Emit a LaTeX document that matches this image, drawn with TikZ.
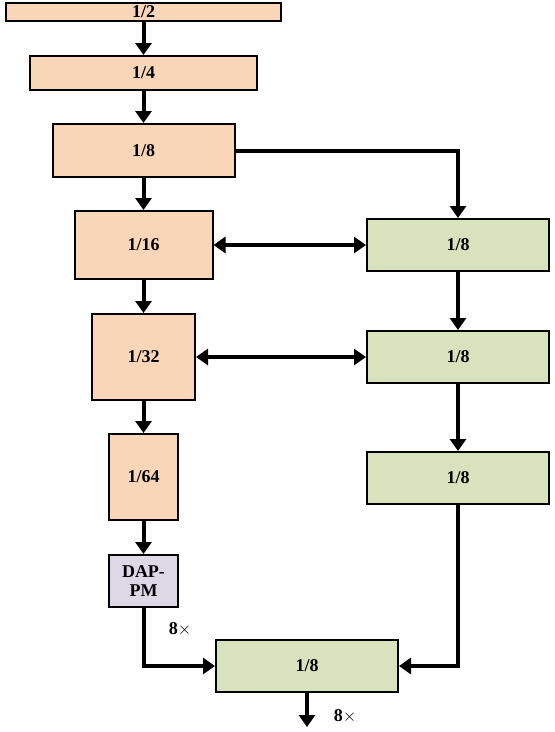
\documentclass[tikz,border=0pt]{standalone}
\usepackage{fontspec}
\setmainfont{Liberation Serif}
\usetikzlibrary{arrows.meta}
\definecolor{peach}{HTML}{FAD6B8}
\definecolor{sage}{HTML}{D8E3BE}
\definecolor{lav}{HTML}{DDD8E6}
\tikzset{
  box/.style={draw=black, line width=2pt, inner sep=0pt, font=\fontsize{18}{19}\selectfont\bfseries, align=center},
  pbox/.style={box, fill=peach},
  gbox/.style={box, fill=sage},
  dbox/.style={box, fill=lav},
  conn/.style={line width=4pt, -{Triangle[length=12pt,width=16pt]}},
  biconn/.style={line width=4pt, {Triangle[length=12pt,width=16pt]}-{Triangle[length=12pt,width=16pt]}},
  lbl/.style={font=\fontsize{18}{19}\selectfont\bfseries}
}
\begin{document}
\begin{tikzpicture}[x=1pt,y=-1pt]
\useasboundingbox (0,0) rectangle (555,732);
\node[pbox, minimum width=275pt, minimum height=18pt] (a2) at (143.5,12) {1/2};
\node[pbox, minimum width=227pt, minimum height=34pt] (a4) at (143.5,73) {1/4};
\node[pbox, minimum width=182pt, minimum height=53pt] (a8) at (143.5,150.5) {1/8};
\node[pbox, minimum width=138pt, minimum height=68pt] (a16) at (143.5,245) {1/16};
\node[pbox, minimum width=103pt, minimum height=86pt] (a32) at (143.5,357) {1/32};
\node[pbox, minimum width=69pt, minimum height=86pt] (a64) at (143.5,477) {1/64};
\node[dbox, minimum width=69pt, minimum height=52pt] (dap) at (143.5,581) {DAP-\\PM};
\node[gbox, minimum width=182pt, minimum height=52pt] (g1) at (458,245) {1/8};
\node[gbox, minimum width=182pt, minimum height=52pt] (g2) at (458,357) {1/8};
\node[gbox, minimum width=182pt, minimum height=52pt] (g3) at (458,478) {1/8};
\node[gbox, minimum width=182pt, minimum height=52pt] (b) at (307,666) {1/8};
\coordinate (out) at (307,727);
\node[lbl] (l1) at (180,629) {8$\times$};
\node[lbl] (l2) at (345,716) {8$\times$};

\draw[conn] (a2) -- (a4);
\draw[conn] (a4) -- (a8);
\draw[conn] (a8) -- (a16);
\draw[conn] (a16) -- (a32);
\draw[conn] (a32) -- (a64);
\draw[conn] (a64) -- (dap);
\draw[conn] (a8.east) -| (g1.north);
\draw[biconn] (a16.east) -- (g1.west);
\draw[biconn] (a32.east) -- (g2.west);
\draw[conn] (g1) -- (g2);
\draw[conn] (g2) -- (g3);
\draw[conn] (g3.south) |- (b.east);
\draw[conn] (dap.south) |- (b.west);
\draw[conn] (b.south) -- (out);
\end{tikzpicture}
\end{document}
